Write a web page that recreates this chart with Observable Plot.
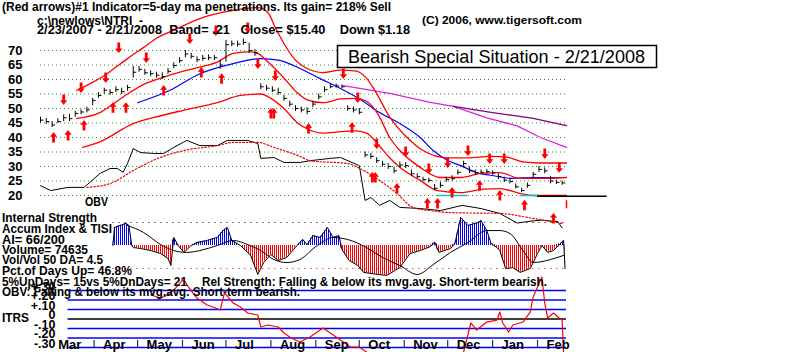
<!DOCTYPE html>
<html><head><meta charset="utf-8">
<script src="https://cdn.jsdelivr.net/npm/d3@7"></script>
<script src="https://cdn.jsdelivr.net/npm/@observablehq/plot@0.6"></script>
<style>
body{margin:0;background:#fff}
#chart{position:relative;width:800px;height:352px;overflow:hidden;background:#fff}
#chart svg{position:absolute;left:0;top:0}
</style></head><body><div id="chart"></div>
<script>
// ---------------- DATA ----------------
const priceDates = ["2007-02-23","2007-02-27","2007-03-03","2007-03-07","2007-03-11","2007-03-15","2007-03-19","2007-03-23","2007-03-27","2007-03-31",
"2007-04-04","2007-04-08","2007-04-12","2007-04-16","2007-04-20","2007-04-24","2007-04-28","2007-05-02","2007-05-06","2007-05-10",
"2007-05-14","2007-05-18","2007-05-22","2007-05-26","2007-05-30","2007-06-03","2007-06-07","2007-06-11","2007-06-15","2007-06-19",
"2007-06-23","2007-06-27","2007-07-01","2007-07-05","2007-07-09","2007-07-13","2007-07-17","2007-07-21","2007-07-25","2007-07-29",
"2007-08-02","2007-08-06","2007-08-10","2007-08-14","2007-08-18","2007-08-22","2007-08-26","2007-08-30","2007-09-03","2007-09-07",
"2007-09-11","2007-09-15","2007-09-19","2007-09-23","2007-09-27","2007-10-01","2007-10-05","2007-10-09","2007-10-13","2007-10-17",
"2007-10-21","2007-10-25","2007-10-29","2007-11-02","2007-11-06","2007-11-10","2007-11-14","2007-11-18","2007-11-22","2007-11-26",
"2007-11-30","2007-12-04","2007-12-08","2007-12-12","2007-12-16","2007-12-20","2007-12-24","2007-12-28","2008-01-01","2008-01-05",
"2008-01-09","2008-01-13","2008-01-17","2008-01-21","2008-01-25","2008-01-29","2008-02-02","2008-02-06","2008-02-10","2008-02-14",
"2008-02-18"];
const priceClose = [46,45.5,44.3,45.5,46.8,46.5,48.3,48.8,49.5,52.8,
54.5,56.3,55.5,56.5,55.8,57.2,62.5,63.5,62.3,62,
61.5,61,62.8,64.8,66.5,68.8,68,66.8,67.3,67.5,
67.5,65,72,72.3,72.2,72.8,70,69.2,57.5,57,
56.3,55.5,53.5,51.5,50,49.5,49,51.5,54,56.5,
57.5,57.8,57.5,50,49.5,48.7,34,33.5,32,30.8,
30,28.5,30.5,30.3,27.5,26.5,25.5,25.2,22.5,23.5,
25.5,25.8,28,31,28.5,27.8,28,28.2,27.8,26.5,
25.3,24.8,23,21.7,23.5,27.3,29,28.5,25,24.5,
24.3];
const priceHigh = [47,46.5,45.5,46.5,47.8,48,49,49.5,50.5,53.5,
55.5,57,56.5,57.5,57,58,64.5,64.5,63.5,63,
62.5,62.3,63.8,65.8,67.5,70,69,67.8,68.3,68.5,
68.3,66.5,73.5,73.3,73.2,74,72.5,70.3,58.5,58,
57.5,57,54.5,52.5,51,50.5,50.3,52.5,55,57.5,
58.3,58.5,58.2,51,50.5,50,35,34.5,33,31.8,
31,29.8,31.5,31.3,28.8,27.5,26.3,26,23.8,24.5,
26.3,26.8,28.8,31.8,29.8,28.8,28.8,29,28.5,27.5,
26.3,25.8,24,22.5,24.3,28,30,29.5,26.5,25.3,
25];
const priceLow = [45,44.5,43.5,44.8,45.5,45.5,47,47.8,48.5,51,
53.5,55,54.5,55.5,54.8,56,60.5,62.5,61.5,61,
60.5,60,61.8,63.8,65.5,67.5,67,65.8,66.3,66.5,
66.5,63.5,66,71.3,71.2,71.8,69,68,56.5,56,
55.5,54.5,52.5,50.5,49,48.5,47.8,50.3,53,55.5,
56.8,57,56.8,49,48.5,47.8,33,32.5,31,29.8,
29,27.5,29.5,29.3,26.5,25.8,24.8,24.3,21.8,22.5,
24.5,25,27,29.5,27.5,27,27.3,27.5,27,25.5,
24.5,24,22.3,21,22.5,26,28,27.5,24,23.8,
23.5];
// last day's drop (Close $15.40, Down $1.18)
const lastDayDate = ["2008-02-21"];
const lastDayHigh = [18.2];
const lastDayLow = [15.4];

const priceTicks = [20,25,30,35,40,45,50,55,60,65,70];

const upperDates = ["2007-03-20","2007-03-29","2007-04-10","2007-04-18","2007-04-24","2007-05-05","2007-05-15","2007-05-26","2007-06-13","2007-07-06","2007-07-23","2007-07-30","2007-08-04","2007-08-10","2007-08-17","2007-08-26","2007-09-06","2007-09-18","2007-09-28","2007-10-05","2007-10-12","2007-10-22","2007-11-03","2007-11-14","2007-12-01","2007-12-15","2007-12-30","2008-01-11","2008-01-22","2008-02-03","2008-02-21"];
const upperValues = [56.2,58.5,62,65,67.2,71,74.5,77,81,83.8,84.8,83,78,72.4,67.2,63.8,62.4,63.2,63,61,56,47,40,35.5,33,33,33.5,33.2,31.6,31.2,31.2];

const maDates = ["2007-03-20","2007-04-05","2007-04-14","2007-04-24","2007-05-06","2007-05-17","2007-06-01","2007-06-13","2007-06-25","2007-07-06","2007-07-18","2007-07-23","2007-07-30","2007-08-10","2007-08-19","2007-08-26","2007-09-06","2007-09-18","2007-09-28","2007-10-06","2007-10-14","2007-10-22","2007-10-29","2007-11-12","2007-11-26","2007-12-10","2007-12-24","2008-01-06","2008-01-20","2008-02-03","2008-02-21"];
const maValues = [46.6,48.6,51.5,55,58.5,60.5,62.8,64.3,66,69,69.5,69,66,60.5,55.5,53,52,53.3,53.5,52.5,48,40,35.5,29.7,26.2,26.2,27.6,27.9,25.9,25.9,26.2];

const lowerDates = ["2007-03-24","2007-04-05","2007-04-28","2007-05-17","2007-06-01","2007-06-25","2007-07-11","2007-07-25","2007-08-01","2007-08-10","2007-08-19","2007-08-28","2007-09-06","2007-09-18","2007-09-28","2007-10-06","2007-10-15","2007-10-22","2007-10-29","2007-11-12","2007-11-24","2007-12-10","2007-12-26","2008-01-06","2008-01-20","2008-01-29","2008-02-21"];
const lowerValues = [36.6,38.5,44.8,47.5,49.3,52,54.5,55,53.5,50,45.2,42.5,41.5,42,42.3,41.5,37,33,29.7,25.2,21.7,21,22.2,22.4,20.7,20,20];

const ma50Dates = ["2007-05-01","2007-05-23","2007-06-13","2007-07-06","2007-07-25","2007-08-07","2007-08-21","2007-09-04","2007-09-18","2007-10-01","2007-10-15","2007-10-29","2007-11-12","2007-11-21","2007-12-01","2007-12-10","2007-12-21","2008-01-01","2008-01-15","2008-01-29","2008-02-21"];
const ma50Values = [52,56.2,62,65.5,67.2,66.6,63.8,60.3,56.9,53.4,48.6,44.8,40,35.5,32.1,30.3,27.9,26.9,25.9,26.2,26.2];

const ma200Dates = ["2007-09-20","2007-10-22","2007-11-19","2007-12-05","2007-12-28","2008-01-18","2008-02-03","2008-02-21"];
const ma200Values = [57.9,55.2,52.1,50.7,46.8,44,40,36.6];
const ma200bDates = ["2007-12-05","2008-01-01","2008-01-15","2008-01-29","2008-02-21"];
const ma200bValues = [50.7,48.6,47.6,46.6,44.1];

// support lines near the lows
const supportStart = ["2007-11-24","2008-01-20","2008-02-01"];
const supportEnd = ["2007-12-15","2008-02-03","2008-03-20"];
const supportLevel = [20,20,19.7];
const supportColor = ["#00c8c8","#00c8c8","#000000"];

// OBV (read on the price axis units)
const obvDates = ["2007-02-23","2007-03-02","2007-03-14","2007-03-25","2007-03-29","2007-04-05","2007-04-12","2007-04-17","2007-04-21","2007-04-24","2007-04-28","2007-05-03","2007-05-12","2007-05-19","2007-05-26","2007-06-04","2007-06-13","2007-06-25","2007-07-02","2007-07-16","2007-07-23","2007-07-25","2007-08-03","2007-08-10","2007-08-21","2007-08-28","2007-09-11","2007-09-18","2007-10-01","2007-10-05","2007-10-09","2007-10-15","2007-10-22","2007-10-29","2007-11-12","2007-11-26","2007-12-11","2007-12-24","2008-01-06","2008-01-18","2008-01-25","2008-02-03","2008-02-15","2008-02-18"];
const obvValues = [23.4,21.7,22.8,22.8,24.5,27.6,29.3,29.3,28,31,36.2,34.8,34.5,34.5,36.6,39,37.2,37.2,39,39,37.9,32.8,33.1,31.4,31.4,32,32.8,33.1,30.3,18.3,19.3,16.6,18.3,15.9,15.5,14.8,16.6,15.5,13.8,10.5,11,11.5,11,8.8];
const obvMaDates = ["2007-03-27","2007-04-12","2007-04-28","2007-05-15","2007-06-02","2007-06-25","2007-07-06","2007-07-23","2007-08-03","2007-08-21","2007-08-28","2007-09-23","2007-10-04","2007-10-15","2007-10-27","2007-11-07","2007-11-19","2007-12-03","2008-01-06","2008-01-29","2008-02-19"];
const obvMaValues = [22.8,24.1,28.6,32.8,35.5,37.2,38.3,38.3,36.6,33.5,32,31,28.6,25.2,20.7,15.9,14.8,14.1,13.8,12.1,10.3];

// red signal arrows
const downArrowDates = ["2007-03-11","2007-03-23","2007-04-09","2007-04-18","2007-05-07","2007-06-06","2007-06-24","2007-07-16","2007-07-23","2007-08-04","2007-09-20","2007-09-30","2007-10-13","2007-11-02","2007-11-18","2007-12-01","2007-12-15","2007-12-30","2008-01-09","2008-02-06","2008-02-16"];
const downArrowPrices = [53.1,57.2,60.7,71,67.6,74.1,76.9,77.9,65.5,61.4,62.1,53.8,37.9,35.2,29.3,31.4,35.5,32.8,32.8,34.5,29.7];
const upArrowDates = ["2007-03-04","2007-03-14","2007-03-25","2007-04-14","2007-04-23","2007-05-19","2007-06-14","2007-06-28","2007-08-01","2007-08-03","2007-08-27","2007-09-26","2007-10-10","2007-10-12","2007-10-27","2007-11-17","2007-11-24","2007-12-04","2007-12-23","2008-01-06","2008-01-23","2008-02-12"];
const upArrowPrices = [40,40.7,44.1,50.3,50.3,56.2,62.4,60.3,48.3,48.3,43.1,43.4,26.2,26.2,22.4,17.2,17.2,21,23.4,20,16.6,12.1];

// Accumulation index (scaled so the dotted lines are +1 / -1)
const aiDates = ["2007-04-14","2007-04-15","2007-04-19","2007-04-23","2007-04-25","2007-04-27","2007-04-28","2007-05-03","2007-05-10","2007-05-17","2007-05-22","2007-05-24","2007-05-26","2007-05-29","2007-06-02","2007-06-07","2007-06-11","2007-06-18","2007-06-25","2007-06-29","2007-07-02","2007-07-05","2007-07-11","2007-07-18","2007-07-23","2007-07-27","2007-08-01","2007-08-06","2007-08-12","2007-08-19","2007-08-23","2007-08-26","2007-08-30","2007-09-04","2007-09-09","2007-09-13","2007-09-17","2007-09-19","2007-09-24","2007-09-30","2007-10-04","2007-10-14","2007-10-20","2007-10-29","2007-11-05","2007-11-12","2007-11-19","2007-11-22","2007-11-25","2007-12-03","2007-12-06","2007-12-10","2007-12-15","2007-12-22","2007-12-24","2007-12-28","2007-12-31","2008-01-04","2008-01-06","2008-01-10","2008-01-15","2008-01-20","2008-01-27","2008-02-01","2008-02-04","2008-02-08","2008-02-12","2008-02-17","2008-02-19","2008-02-20"];
const aiValues = [0,0.78,0.87,0.96,0.87,0,-0.09,-0.13,-0.22,-0.35,-0.57,-0.87,0.35,0,-0.3,0,0.13,0.22,0.35,0.65,0.78,0.22,0,-0.43,-1.26,-0.74,-0.39,-0.65,-0.52,0,0.26,0.04,0.43,0.35,0.78,0.35,0.43,-0.17,-0.65,-0.87,-1.17,-1.26,-1.3,-0.96,-0.35,-0.22,-0.05,0.15,-0.3,-0.13,0.09,1.22,0.87,1.0,1.09,0.65,0.09,-0.09,-0.22,-1.0,-0.96,-1.17,-1.0,-0.35,0,-0.3,-0.22,0.09,0.22,-1.0];
const aiMaDates = ["2007-04-24","2007-05-05","2007-05-17","2007-05-26","2007-06-04","2007-06-13","2007-06-25","2007-07-06","2007-07-16","2007-07-25","2007-08-03","2007-08-12","2007-08-21","2007-09-02","2007-09-13","2007-09-23","2007-10-06","2007-10-17","2007-10-29","2007-11-10","2007-11-21","2007-12-03","2007-12-15","2007-12-28","2008-01-06","2008-01-13","2008-01-22","2008-01-29","2008-02-10","2008-02-19"];
const aiMaValues = [0.87,0.57,0.04,-0.22,-0.3,-0.22,0,0.22,0.04,-0.22,-0.61,-0.74,-0.61,0,0.35,0.26,-0.09,-0.52,-0.87,-1.26,-0.83,-0.3,0.13,0.65,0.65,0.52,-0.22,-0.74,-0.61,-0.43];

// ITRS (relative strength)
const itrsDates = ["2007-05-10","2007-05-17","2007-05-22","2007-05-26","2007-06-01","2007-06-03","2007-06-05","2007-06-11","2007-06-18","2007-06-22","2007-06-27","2007-06-30","2007-07-06","2007-07-11","2007-07-16","2007-07-23","2007-07-25","2007-07-30","2007-08-06","2007-08-10","2007-08-15","2007-08-21","2007-08-28","2007-09-06","2007-09-13","2007-09-20","2007-09-25","2007-10-01","2007-10-12","2007-11-12","2007-12-10","2007-12-12","2007-12-17","2007-12-21","2007-12-28","2008-01-04","2008-01-06","2008-01-08","2008-01-12","2008-01-15","2008-01-22","2008-01-27","2008-01-29","2008-02-01","2008-02-04","2008-02-06","2008-02-08","2008-02-12","2008-02-15","2008-02-18","2008-02-19","2008-02-21"];
const itrsValues = [0.253,0.221,0.253,0.305,0.41,0.39,0.337,0.221,0.147,0.126,0.095,0.274,0.168,0.126,0.063,0.042,-0.084,-0.063,-0.084,-0.147,-0.2,-0.242,-0.19,-0.095,-0.168,-0.242,-0.295,-0.295,-0.41,-0.48,-0.43,-0.347,-0.042,-0.116,-0.032,-0.011,0.074,-0.042,-0.137,-0.063,-0.032,0.074,0.232,0.337,0.442,0.168,0.011,0.063,0.021,-0.011,-0.347,-0.43];
const itrsTicks = [0.3,0.2,0.1,0,-0.1,-0.2,-0.3];
const itrsTickLabels = ["+.30","+.20","+.10","0","-.10","-.20","-.30"];

const monthStarts = ["2007-03-01","2007-04-01","2007-05-01","2007-06-01","2007-07-01","2007-08-01","2007-09-01","2007-10-01","2007-11-01","2007-12-01","2008-01-01","2008-02-01"];
const monthNames = ["Mar","Apr","May","Jun","Jul","Aug","Sep","Oct","Nov","Dec","Jan","Feb"];

// ---------------- BUILD ----------------
const FONT = '"Liberation Sans", Arial, Helvetica, sans-serif';
const D = s => new Date(s);
const series = (dates, values) => dates.map((d, i) => ({date: D(d), value: values[i]}));

const prices = priceDates.map((d, i) => ({date: D(d), hi: priceHigh[i], lo: priceLow[i], close: priceClose[i]}));
const lastDay = lastDayDate.map((d, i) => ({date: D(d), hi: lastDayHigh[i], lo: lastDayLow[i]}));
const upper = series(upperDates, upperValues);
const ma = series(maDates, maValues);
const lower = series(lowerDates, lowerValues);
const ma50 = series(ma50Dates, ma50Values);
const ma200 = series(ma200Dates, ma200Values);
const ma200b = series(ma200bDates, ma200bValues);
const obv = series(obvDates, obvValues);
const obvMa = series(obvMaDates, obvMaValues);
const downArrows = series(downArrowDates, downArrowPrices);
const upArrows = series(upArrowDates, upArrowPrices);
const supports = supportStart.map((d, i) => ({x1: D(d), x2: D(supportEnd[i]), y: supportLevel[i], c: supportColor[i]}));
const ai = series(aiDates, aiValues);
const aiMa = series(aiMaDates, aiMaValues);
const itrs = series(itrsDates, itrsValues);
const months = monthStarts.map(D);

const upSym = {draw(c){c.moveTo(0,-5.5);c.lineTo(3.6,-0.8);c.lineTo(1.4,-0.8);c.lineTo(1.4,5);c.lineTo(-1.4,5);c.lineTo(-1.4,-0.8);c.lineTo(-3.6,-0.8);c.closePath();}};
const downSym = {draw(c){c.moveTo(0,5.5);c.lineTo(3.6,0.8);c.lineTo(1.4,0.8);c.lineTo(1.4,-5);c.lineTo(-1.4,-5);c.lineTo(-1.4,0.8);c.lineTo(-3.6,0.8);c.closePath();}};
const tickSym = {draw(c){c.moveTo(0,0);c.lineTo(3,0);}};

const xDomain = [D("2007-02-23"), D("2008-02-21")];
const base = {
  width: 800, height: 352, marginLeft: 40, marginRight: 234,
  x: {type: "utc", domain: xDomain, axis: null},
  style: {background: "transparent", overflow: "visible", fontFamily: FONT, color: "#000"}
};

const priceChart = Plot.plot({
  ...base, marginTop: 50, marginBottom: 157,
  y: {domain: [20, 70]},
  marks: [
    Plot.ruleY(priceTicks, {stroke: "#2e8b2e", strokeDasharray: "1,3", strokeWidth: 1}),
    Plot.axisY(priceTicks, {anchor: "left", tickSize: 0, tickPadding: 18, fontSize: 13, fontWeight: "bold", label: null}),
    Plot.line(obv, {x: "date", y: "value", stroke: "#000", strokeWidth: 1}),
    Plot.line(obvMa, {x: "date", y: "value", stroke: "#e00", strokeWidth: 1.2, strokeDasharray: "1.5,2", curve: "monotone-x"}),
    Plot.line(ma200, {x: "date", y: "value", stroke: "#e020e0", strokeWidth: 1.3}),
    Plot.line(ma200b, {x: "date", y: "value", stroke: "#800080", strokeWidth: 1.3}),
    Plot.line(ma50, {x: "date", y: "value", stroke: "#0000ff", strokeWidth: 1.2, curve: "monotone-x"}),
    Plot.line(upper, {x: "date", y: "value", stroke: "#f00", strokeWidth: 1.3, curve: "monotone-x"}),
    Plot.line(ma, {x: "date", y: "value", stroke: "#f00", strokeWidth: 1.3, curve: "monotone-x"}),
    Plot.line(lower, {x: "date", y: "value", stroke: "#f00", strokeWidth: 1.3, curve: "monotone-x"}),
    Plot.ruleY(supports, {x1: "x1", x2: "x2", y: "y", stroke: "c", strokeWidth: 1.5}),
    Plot.ruleX(prices, {x: "date", y1: "lo", y2: "hi", stroke: "#000", strokeWidth: 1}),
    Plot.dot(prices, {x: "date", y: "close", symbol: tickSym, stroke: "#000", fill: "none", r: 3, strokeWidth: 1}),
    Plot.ruleX(lastDay, {x: "date", y1: "lo", y2: "hi", stroke: "#f00", strokeWidth: 1.5}),
    Plot.dot(downArrows, {x: "date", y: "value", symbol: downSym, fill: "#f00", stroke: "none", r: 5}),
    Plot.dot(upArrows, {x: "date", y: "value", symbol: upSym, fill: "#f00", stroke: "none", r: 5})
  ]
});

const aiStart = D("2007-04-14");
const accumChart = Plot.plot({
  ...base, marginTop: 222, marginBottom: 84,
  y: {domain: [-1, 1], axis: null},
  marks: [
    Plot.ruleY([1], {x1: aiStart, x2: xDomain[1], stroke: "#000", strokeDasharray: "1,5"}),
    Plot.ruleY([-1], {x1: aiStart, x2: xDomain[1], stroke: "#c00", strokeDasharray: "1,5"}),
    Plot.areaY(ai, {x: "date", y: d => Math.max(0, d.value), fill: "url(#blueStripes)"}),
    Plot.areaY(ai, {x: "date", y: d => Math.min(0, d.value), fill: "url(#redStripes)"}),
    Plot.line(ai, {x: "date", y: "value", stroke: "#000", strokeWidth: 1}),
    Plot.line(aiMa, {x: "date", y: "value", stroke: "#000", strokeWidth: 1, curve: "monotone-x"})
  ]
});
accumChart.insertAdjacentHTML("afterbegin",
  '<defs><pattern id="blueStripes" patternUnits="userSpaceOnUse" width="2" height="4"><rect x="0" y="0" width="1" height="4" fill="#0000ff"/></pattern>' +
  '<pattern id="redStripes" patternUnits="userSpaceOnUse" width="2" height="4"><rect x="0" y="0" width="1" height="4" fill="#ff0000"/></pattern></defs>');

const itrsStart = D("2007-03-14");
const itrsChart = Plot.plot({
  ...base, marginTop: 290, marginBottom: 5,
  y: {domain: [-0.3, 0.3], axis: null},
  marks: [
    Plot.ruleY(itrsTicks, {x1: itrsStart, x2: xDomain[1], stroke: d => d === 0 ? "#000" : "#0000ff", strokeWidth: 1.4}),
    Plot.line(itrs, {x: "date", y: "value", stroke: "#f00", strokeWidth: 1.2}),
    Plot.text(itrsTicks, {y: d => d, text: (d, i) => itrsTickLabels[i], frameAnchor: "left", dx: 15, dy: -4, textAnchor: "end", fontWeight: "bold", fontSize: 12.5, fill: "#000"}),
    Plot.ruleX(months.slice(1), {x: d => d, y1: () => -0.3, y2: () => -0.225, stroke: "#333", strokeWidth: 1.2}),
    Plot.text(months, {x: d => d, y: () => -0.3, text: (d, i) => monthNames[i], textAnchor: "start", dx: 9, dy: -3, fontWeight: "bold", fontSize: 13, fill: "#000"})
  ]
});

// ---------------- TEXT ANNOTATIONS ----------------
const NS = "http://www.w3.org/2000/svg";
const ann = document.createElementNS(NS, "svg");
ann.setAttribute("width", 800); ann.setAttribute("height", 352);
function el(tag, attrs, txt) {
  const e = document.createElementNS(NS, tag);
  for (const k in attrs) e.setAttribute(k, attrs[k]);
  if (txt != null) e.textContent = txt;
  ann.appendChild(e); return e;
}
function T(x, y, s, size, len, weight = "bold") {
  return el("text", {x, y, "font-size": size, "font-weight": weight, "font-family": FONT, fill: "#000",
    textLength: len, lengthAdjust: "spacingAndGlyphs", style: "white-space:pre"}, s);
}
const headerLines = [
  [2, 11, "(Red arrows)#1 Indicator=5-day ma penetrations. Its gain= 218% Sell", 12.5, 389],
  [37, 25, "c:\\newlows\\NTRI  -", 12.5, 106],
  [37, 34, "2/23/2007 - 2/21/2008  Band= .21   Close= $15.40    Down $1.18", 12.5, 373],
  [422, 24, "(C) 2006, www.tigersoft.com", 11, 160]
];
const sideLines = [
  [2, 222, "Internal Strength", 12.5, 95],
  [2, 233, "Accum Index & TISI", 12.5, 110],
  [2, 243.5, "AI= 66/200", 12.5, 63],
  [2, 254, "Volume= 74635", 12.5, 86],
  [2, 264, "Vol/Vol 50 DA= 4.5", 12.5, 101],
  [2, 274.5, "Pct.of Days Up= 46.8%", 12.5, 130],
  [2, 286, "5%UpDays= 15vs 5%DnDays= 21", 12.5, 185],
  [202, 286, "Rel Strength: Falling & below its mvg.avg. Short-term bearish.", 12.5, 345],
  [2, 296, "OBV: Falling & below its mvg.avg. Short-term bearish.", 12.5, 298],
  [2, 322, "ITRS", 12.5, 27],
  [85, 206, "OBV", 12.5, 23]
];
headerLines.forEach(a => T(...a));
sideLines.forEach(a => T(...a));
el("rect", {x: 337.5, y: 45.5, width: 319, height: 22, fill: "#fff", stroke: "#000", "stroke-width": 1.5});
T(348, 63, "Bearish Special Situation - 2/21/2008", 19, 297, "normal");

const chart = document.getElementById("chart");
chart.appendChild(priceChart);
chart.appendChild(accumChart);
chart.appendChild(itrsChart);
chart.appendChild(ann);
</script></body></html>
